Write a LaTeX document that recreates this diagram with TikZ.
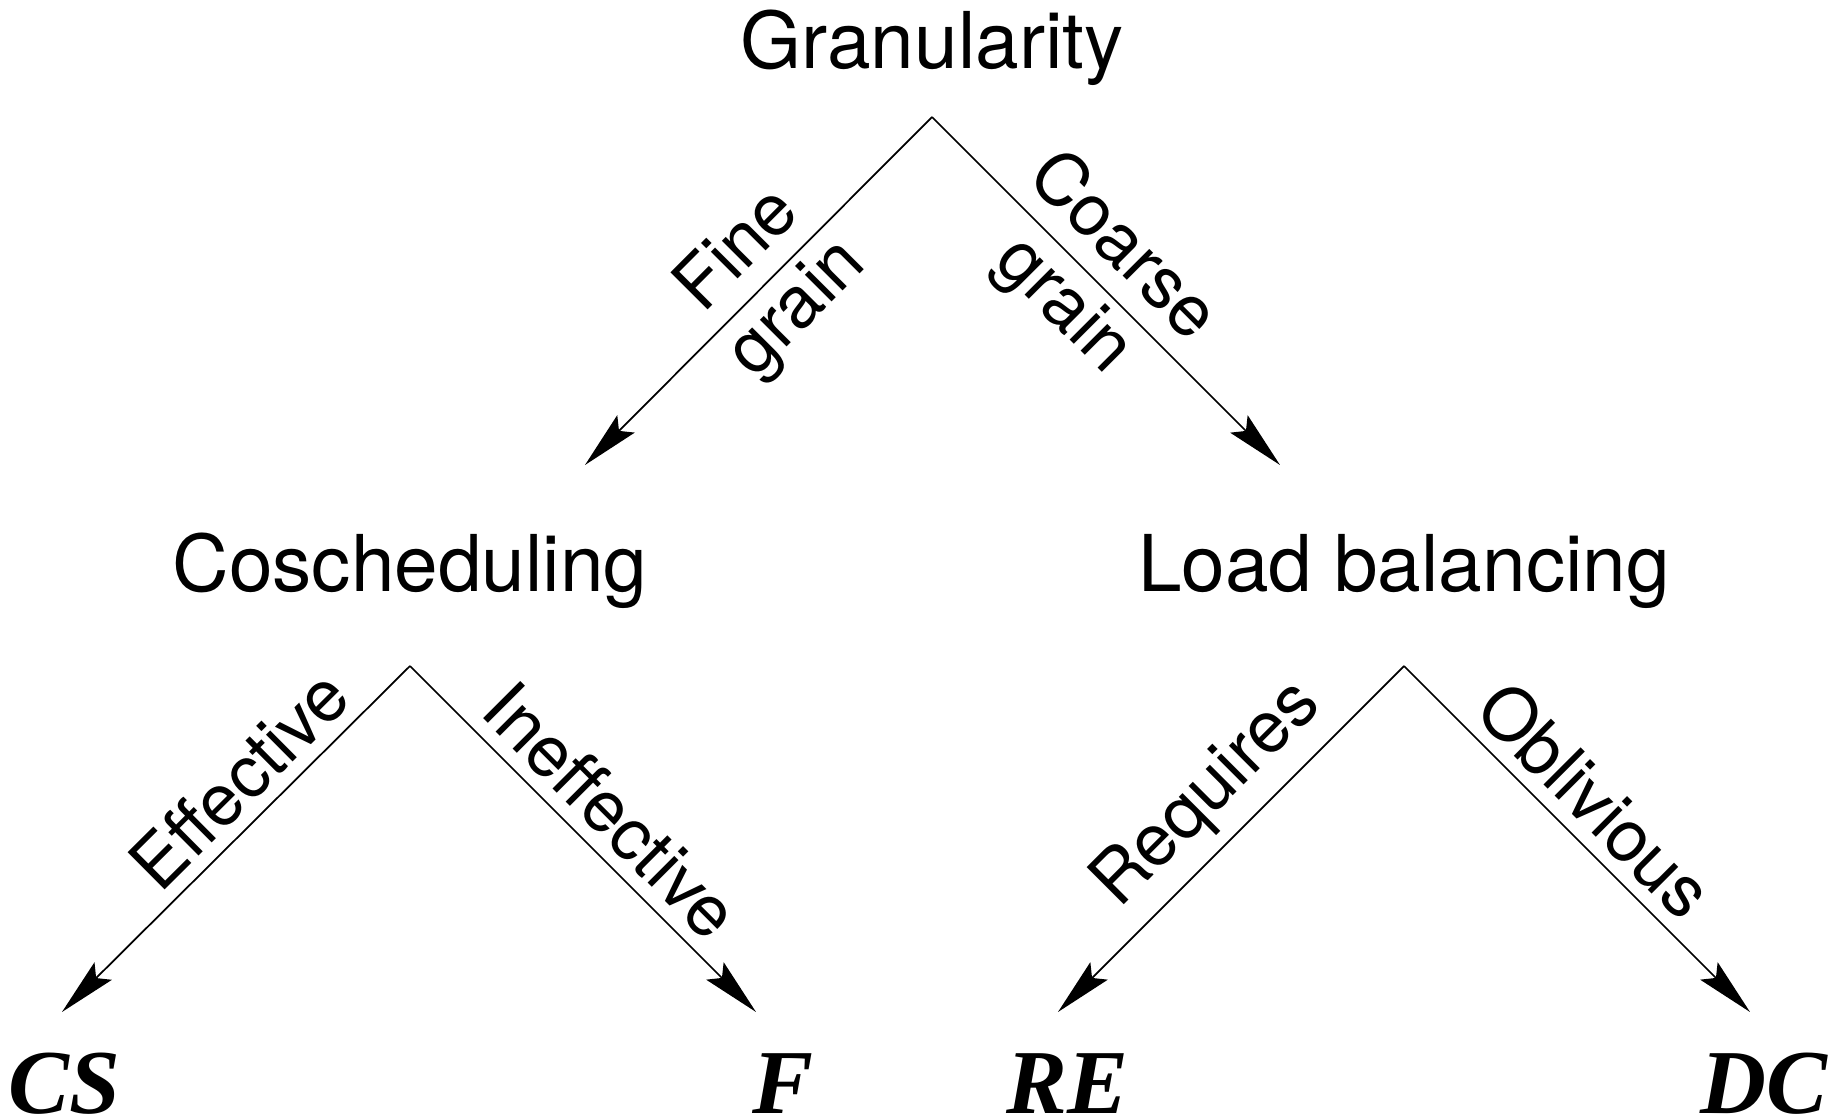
\documentclass[tikz,border=0pt]{standalone}
\usepackage{fontspec}
\setmainfont{TeX Gyre Heros}
\newfontfamily\leaffont{Liberation Serif}
\usetikzlibrary{arrows.meta}

\begin{document}
\begin{tikzpicture}[
        concept/.style={
            inner sep=0pt, 
            anchor=base, 
            font=\fontsize{22.3}{26}\selectfont
        },
        leaf/.style={
            inner sep=0pt, 
            anchor=base, 
            font=\leaffont\bfseries\itshape\fontsize{26}{30}\selectfont
        },
        edgetext/.style={
            sloped, 
            align=center, 
            inner sep=3.5pt, 
            font=\fontsize{20.5}{23.5}\selectfont
        },
        arrow/.style={-{Stealth[length=16.5pt, width=7pt, inset=2.8pt]}, line width=0.5pt, draw=black}
    ]
    \useasboundingbox (0, 0) rectangle (18.46, -11.17);

    % Nodos con coordenadas fijas
    \node[concept] (granularity) at (9.32, -0.69) {Granularity};
    \node[concept] (cosched) at (4.10, -5.91) {Coscheduling};
    \node[concept] (loadbal) at (14.04, -5.91) {Load balancing};

    \node[leaf] (cs) at (0.64, -11.13) {CS};
    \node[leaf] (f) at (7.83, -11.13) {F};
    \node[leaf] (re) at (10.67, -11.13) {RE};
    \node[leaf] (dc) at (17.64, -11.13) {DC};

    % Vertices y puntas
    \coordinate (granTop) at (9.32, -1.17);
    \coordinate (fineTip) at (5.85, -4.65);
    \coordinate (coarseTip) at (12.80, -4.65);
    \coordinate (coschedTop) at (4.10, -6.66);
    \coordinate (csTip) at (0.62, -10.12);
    \coordinate (fTip) at (7.56, -10.12);
    \coordinate (loadbalTop) at (14.04, -6.66);
    \coordinate (reTip) at (10.58, -10.12);
    \coordinate (dcTip) at (17.50, -10.12);

    % Conexiones
    \draw[arrow] (granTop) -- node[edgetext, inner sep=2pt, pos=0.47]{Fine\\grain} (fineTip);
    \draw[arrow] (granTop) -- node[edgetext, inner sep=2pt, pos=0.46]{Coarse\\grain} (coarseTip);
    \draw[arrow] (coschedTop) -- node[edgetext, above, pos=0.41]{Effective} (csTip);
    \draw[arrow] (coschedTop) -- node[edgetext, above, pos=0.50]{Ineffective} (fTip);
    \draw[arrow] (loadbalTop) -- node[edgetext, above, pos=0.47]{Requires} (reTip);
    \draw[arrow] (loadbalTop) -- node[edgetext, above, pos=0.47]{Oblivious} (dcTip);
\end{tikzpicture}
\end{document}
